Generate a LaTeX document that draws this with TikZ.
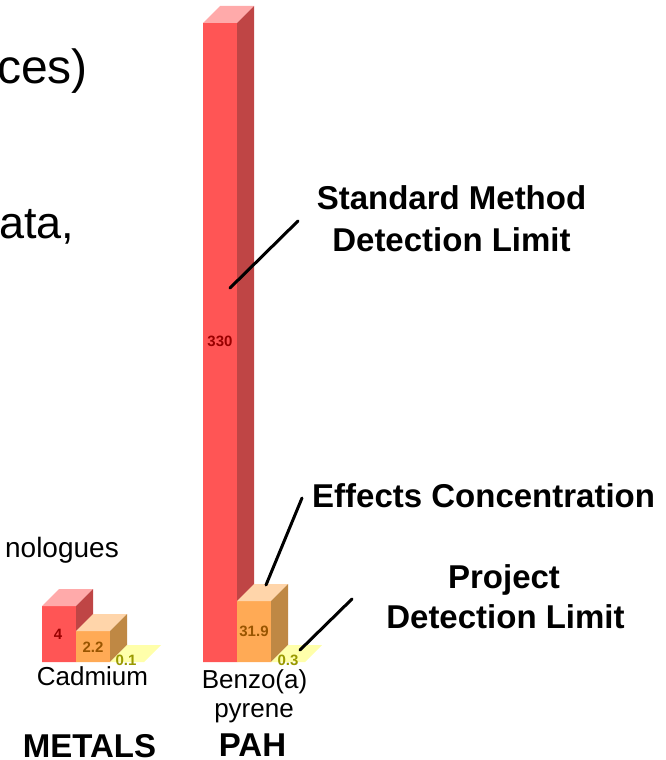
\documentclass[tikz,border=0pt]{standalone}
\usepackage{fontspec}
\setmainfont{Liberation Sans}
\usepackage{tkz-euclide}
\definecolor{RedFrontClr}{rgb}{1,0.333,0.333}
\definecolor{RedTopClr}{rgb}{1,0.667,0.667}
\definecolor{RedSideClr}{rgb}{0.75,0.27,0.27}
\definecolor{OrangeFrontClr}{rgb}{1,0.667,0.333}
\definecolor{OrangeTopClr}{rgb}{1,0.835,0.667}
\definecolor{OrangeSideClr}{rgb}{0.75,0.533,0.267}
\definecolor{YellowClr}{rgb}{1,1,0.667}
\definecolor{ValRedClr}{rgb}{0.6,0,0}
\definecolor{ValOrangeClr}{rgb}{0.6,0.333,0}
\definecolor{ValYellowClr}{rgb}{0.6,0.6,0}

\begin{document}
\begin{tikzpicture}[x=1pt,y=-1pt,
  bigtxt/.style={font=\fontsize{48}{54}\selectfont,inner sep=0pt},
  cattxt/.style={font=\fontsize{26}{30}\selectfont,inner sep=0pt,anchor=base},
  grptxt/.style={font=\fontsize{33}{38}\selectfont\bfseries,inner sep=0pt,anchor=base},
  keytxt/.style={font=\fontsize{33}{38}\selectfont\bfseries,inner sep=0pt,anchor=base},
  valtxt/.style={font=\fontsize{15}{18}\selectfont\bfseries,inner sep=0pt}]
\useasboundingbox (0,0) rectangle (665,760);
\tkzSetUpLine[line width=3pt,color=black,line cap=round]

% Cadmium bars
\tkzDefPoints{42/662/cr1,76/662/cr2,76/606/cr3,42/606/cr4,59/589/cr5,93/589/cr6,93/645/cr7}
\tkzDefPoints{76/662/co1,110/662/co2,110/631/co3,76/631/co4,93/614/co5,127/614/co6,127/645/co7}
\tkzDefPoints{110/662/cy1,144/662/cy2,161/645/cy3,127/645/cy4}
% Benzo(a)pyrene bars
\tkzDefPoints{203/662/br1,237/662/br2,237/23/br3,203/23/br4,220/6/br5,254/6/br6,254/645/br7}
\tkzDefPoints{237/662/bo1,271/662/bo2,271/601/bo3,237/601/bo4,254/584/bo5,288/584/bo6,288/645/bo7}
\tkzDefPoints{271/662/by1,305/662/by2,322/645/by3,288/645/by4}

\tkzFillPolygon[fill=RedFrontClr](cr1,cr2,cr3,cr4)
\tkzFillPolygon[fill=RedTopClr](cr4,cr3,cr6,cr5)
\tkzFillPolygon[fill=RedSideClr](cr2,cr7,cr6,cr3)
\tkzFillPolygon[fill=OrangeFrontClr](co1,co2,co3,co4)
\tkzFillPolygon[fill=OrangeTopClr](co4,co3,co6,co5)
\tkzFillPolygon[fill=OrangeSideClr](co2,co7,co6,co3)
\tkzFillPolygon[fill=YellowClr](cy1,cy2,cy3,cy4)

\tkzFillPolygon[fill=RedFrontClr](br1,br2,br3,br4)
\tkzFillPolygon[fill=RedTopClr](br4,br3,br6,br5)
\tkzFillPolygon[fill=RedSideClr](br2,br7,br6,br3)
\tkzFillPolygon[fill=OrangeFrontClr](bo1,bo2,bo3,bo4)
\tkzFillPolygon[fill=OrangeTopClr](bo4,bo3,bo6,bo5)
\tkzFillPolygon[fill=OrangeSideClr](bo2,bo7,bo6,bo3)
\tkzFillPolygon[fill=YellowClr](by1,by2,by3,by4)

% values
\node[valtxt,text=ValRedClr] (v4) at (58,634) {4};
\node[valtxt,text=ValOrangeClr] (v22) at (93,647) {2.2};
\node[valtxt,text=ValYellowClr] (v01) at (126,660) {0.1};
\node[valtxt,text=ValRedClr] (v330) at (220,341) {330};
\node[valtxt,text=ValOrangeClr] (v319) at (254,631) {31.9};
\node[valtxt,text=ValYellowClr] (v03) at (288,660) {0.3};

% leaders
\tkzDefPoints{230/288/l1,298/221/k1,266/585/l2,302/498/k2,300/650/l3,352/599/k3}
\tkzDrawSegment(l1,k1)
\tkzDrawSegment(l2,k2)
\tkzDrawSegment(l3,k3)

% keys
\node[keytxt] (std1) at (451.5,209) {Standard Method};
\node[keytxt] (std2) at (451.5,251) {Detection Limit};
\node[keytxt,anchor=base west] (eff) at (312,507) {Effects Concentration};
\node[keytxt] (prj1) at (504,588) {Project};
\node[keytxt] (prj2) at (505.5,628) {Detection Limit};

% axis labels
\node[cattxt] (cd) at (92.5,685) {Cadmium};
\node[cattxt] (bap1) at (254.5,688) {Benzo(a)};
\node[cattxt] (bap2) at (254,717) {pyrene};
\node[grptxt] (met) at (89.5,757) {METALS};
\node[grptxt] (pah) at (252.5,756) {PAH};

% cut off slide text
\node[bigtxt,anchor=base east] (src) at (88,84) {ces)};
\node[bigtxt,anchor=base west,font=\fontsize{45}{50}\selectfont] (dat) at (-1,238) {ata,};
\node[cattxt,anchor=base east,font=\fontsize{28}{32}\selectfont] (hom) at (119,557) {nologues};
\end{tikzpicture}
\end{document}
